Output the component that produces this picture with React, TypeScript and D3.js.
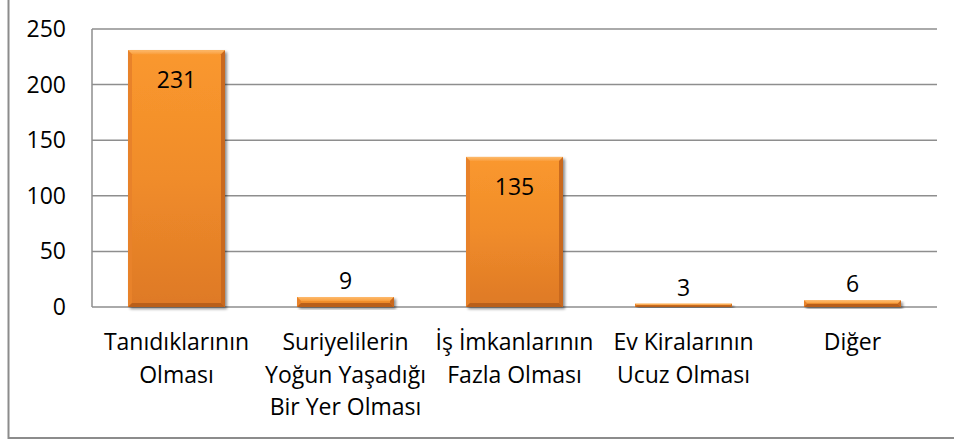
import React from "react";
import * as d3 from "d3";

const categories: string[][] = [
  ["Tanıdıklarının", "Olması"],
  ["Suriyelilerin", "Yoğun Yaşadığı", "Bir Yer Olması"],
  ["İş İmkanlarının", "Fazla Olması"],
  ["Ev Kiralarının", "Ucuz Olması"],
  ["Diğer"],
];
const values: number[] = [231, 9, 135, 3, 6];
const yTicks: number[] = [0, 50, 100, 150, 200, 250];

const W = 954;
const H = 443;
const FONT = "'Open Sans', sans-serif";
const FS = 23;

export default function App() {
  const keys = categories.map((c) => c.join(" "));
  const x = d3
    .scaleBand<string>()
    .domain(keys)
    .range([92, 937])
    .paddingInner(72 / 169)
    .paddingOuter(36 / 169);
  const y = d3.scaleLinear().domain([0, 250]).range([307, 29]);
  const bw = x.bandwidth();

  return (
    <svg
      width={W}
      height={H}
      style={{ position: "absolute", left: 0, top: 0, background: "#fff" }}
    >
      <defs>
        <linearGradient id="barGrad" x1="0" y1="0" x2="0" y2="1">
          <stop offset="0" stopColor="#FA982E" />
          <stop offset="0.5" stopColor="#F08C2A" />
          <stop offset="1" stopColor="#DE7926" />
        </linearGradient>
        <linearGradient id="topBevel" x1="0" y1="0" x2="0" y2="1">
          <stop offset="0" stopColor="#FDBB6E" />
          <stop offset="1" stopColor="#FA9E3C" />
        </linearGradient>
        <filter id="shadow" x="-10%" y="-10%" width="130%" height="130%">
          <feGaussianBlur in="SourceAlpha" stdDeviation="1.5" />
          <feOffset dx="2" dy="2" result="b" />
          <feComponentTransfer>
            <feFuncA type="linear" slope="0.45" />
          </feComponentTransfer>
          <feMerge>
            <feMergeNode />
            <feMergeNode in="SourceGraphic" />
          </feMerge>
        </filter>
      </defs>

      {/* outer chart border */}
      <rect x={8.5} y={-5} width={960} height={443} fill="#fff" stroke="#8C8C8C" strokeWidth={2} />

      {/* gridlines */}
      {yTicks.map((t) => (
        <line
          key={"g" + t}
          x1={92}
          x2={937}
          y1={y(t)}
          y2={y(t)}
          stroke="#8E8E8E"
          strokeWidth={1.5}
        />
      ))}
      <line x1={92} x2={92} y1={y(250)} y2={y(0)} stroke="#8E8E8E" strokeWidth={1.5} />

      {/* y tick labels */}
      {yTicks.map((t) => (
        <text
          key={"t" + t}
          x={66}
          y={y(t)}
          dy="0.35em"
          textAnchor="end"
          fontFamily={FONT}
          fontSize={FS}
          fill="#000"
        >
          {t}
        </text>
      ))}

      {/* bars */}
      {values.map((v, i) => {
        const bx = x(keys[i])!;
        const by = y(v);
        const bh = y(0) - by;
        const bev = Math.min(4, bh / 2);
        return (
          <g key={"b" + i}>
            <rect x={bx} y={by} width={bw} height={bh} fill="url(#barGrad)" filter="url(#shadow)" />
            <polygon
              points={`${bx},${by} ${bx + bw},${by} ${bx + bw - bev},${by + bev} ${bx + bev},${by + bev}`}
              fill="url(#topBevel)"
            />
            <polygon
              points={`${bx},${by} ${bx + bev},${by + bev} ${bx + bev},${by + bh - bev} ${bx},${by + bh}`}
              fill="#E8822A"
            />
            <polygon
              points={`${bx + bw},${by} ${bx + bw - bev},${by + bev} ${bx + bw - bev},${by + bh - bev} ${bx + bw},${by + bh}`}
              fill="#C9691E"
            />
            <polygon
              points={`${bx},${by + bh} ${bx + bev},${by + bh - bev} ${bx + bw - bev},${by + bh - bev} ${bx + bw},${by + bh}`}
              fill="#B95F1A"
            />
            <text
              x={bx + bw / 2}
              y={v > 20 ? by + 30 : by - 16}
              dy="0.35em"
              textAnchor="middle"
              fontFamily={FONT}
              fontSize={FS}
              fill="#000"
            >
              {v}
            </text>
          </g>
        );
      })}

      {/* category labels */}
      {categories.map((lines, i) => {
        const cx = x(keys[i])! + bw / 2;
        return (
          <text
            key={"c" + i}
            x={cx}
            textAnchor="middle"
            fontFamily={FONT}
            fontSize={FS}
            fill="#000"
          >
            {lines.map((l, j) => (
              <tspan key={j} x={cx} y={342 + j * 32.5} dy="0.35em">
                {l}
              </tspan>
            ))}
          </text>
        );
      })}
    </svg>
  );
}
